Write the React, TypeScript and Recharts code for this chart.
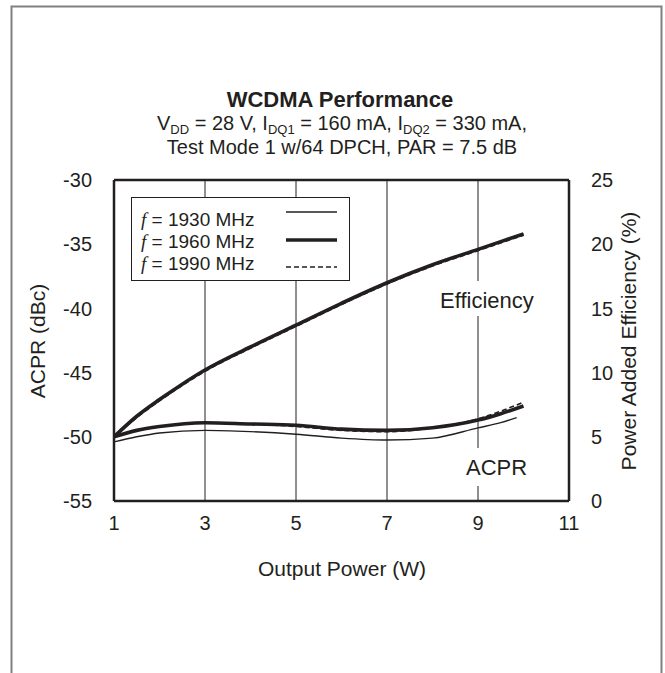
import React from "react";
import {
  ComposedChart,
  Line,
  XAxis,
  YAxis,
  CartesianGrid,
  ReferenceLine,
} from "recharts";

// Output power (W) sample points
const powerEff = [1, 1.5, 2, 2.5, 3, 4, 5, 6, 7, 8, 9, 10];
const powerAcpr = [1, 1.5, 2, 3, 4, 5, 6, 7, 8, 9, 9.5, 10];
const powerAcpr1930 = [1, 1.5, 2, 3, 4, 5, 6, 7, 8, 9, 9.5, 9.85];

// Power added efficiency (%)
const eff1930 = [5.0, 6.6, 7.9, 9.1, 10.2, 12.0, 13.7, 15.4, 17.0, 18.4, 19.6, 20.8];
const eff1960 = [5.0, 6.6, 7.9, 9.1, 10.2, 12.0, 13.7, 15.4, 17.0, 18.4, 19.6, 20.8];
const eff1990 = [5.0, 6.5, 7.8, 9.0, 10.1, 11.9, 13.6, 15.3, 16.9, 18.3, 19.5, 20.7];

// ACPR (dBc)
const acpr1930 = [-50.4, -50.0, -49.7, -49.5, -49.6, -49.8, -50.1, -50.25, -50.1, -49.3, -48.9, -48.5];
const acpr1960 = [-50.0, -49.5, -49.2, -48.9, -49.0, -49.1, -49.4, -49.5, -49.3, -48.7, -48.2, -47.6];
const acpr1990 = [-50.0, -49.5, -49.2, -48.9, -49.0, -49.2, -49.5, -49.6, -49.3, -48.6, -48.0, -47.3];

const xTicks = [1, 3, 5, 7, 9, 11];
const acprTicks = [-55, -50, -45, -40, -35, -30];
const effTicks = [0, 5, 10, 15, 20, 25];

const INK = "#231f20";
const FONT = "'Liberation Sans', Arial, sans-serif";

const toRows = (xs: number[], ys: number[]) => xs.map((x, i) => ({ x, y: ys[i] }));

const series = [
  { name: "1930 MHz", eff: eff1930, acpr: acpr1930, acprX: powerAcpr1930, width: 1.4, dash: undefined, legendY: 212 },
  { name: "1960 MHz", eff: eff1960, acpr: acpr1960, acprX: powerAcpr, width: 3.6, dash: undefined, legendY: 240 },
  { name: "1990 MHz", eff: eff1990, acpr: acpr1990, acprX: powerAcpr, width: 1.6, dash: "5 3", legendY: 267 },
];

const tickStyle = { fontSize: 20, fill: INK, fontFamily: FONT };

export default function App() {
  return (
    <div style={{ position: "absolute", left: 0, top: 0, width: 665, height: 673, background: "#fff" }}>
      <ComposedChart
        width={665}
        height={673}
        margin={{ top: 180, left: 54, right: 36, bottom: 142 }}
      >
        <CartesianGrid stroke={INK} strokeWidth={1} />
        <XAxis
          type="number"
          dataKey="x"
          domain={[1, 11]}
          ticks={xTicks}
          allowDataOverflow
          tickLine={false}
          axisLine={{ stroke: INK, strokeWidth: 2.5 }}
          tick={tickStyle}
          tickMargin={9}
          height={30}
        />
        <YAxis
          yAxisId="acpr"
          domain={[-55, -30]}
          ticks={acprTicks}
          tickLine={false}
          axisLine={{ stroke: INK, strokeWidth: 2.5 }}
          tick={tickStyle}
          tickMargin={16}
          width={60}
        />
        <YAxis
          yAxisId="eff"
          orientation="right"
          domain={[0, 25]}
          ticks={effTicks}
          tickLine={false}
          axisLine={{ stroke: INK, strokeWidth: 2.5 }}
          tick={tickStyle}
          tickMargin={16}
          width={60}
        />
        <ReferenceLine yAxisId="acpr" y={-30} stroke={INK} strokeWidth={2.5} />
        {series.map((s) => (
          <Line
            key={"eff" + s.name}
            yAxisId="eff"
            data={toRows(powerEff, s.eff)}
            dataKey="y"
            type="monotone"
            stroke={INK}
            strokeWidth={s.width}
            strokeDasharray={s.dash}
            dot={false}
            isAnimationActive={false}
          />
        ))}
        {series.map((s) => (
          <Line
            key={"acpr" + s.name}
            yAxisId="acpr"
            data={toRows(s.acprX, s.acpr)}
            dataKey="y"
            type="monotone"
            stroke={INK}
            strokeWidth={s.width}
            strokeDasharray={s.dash}
            dot={false}
            isAnimationActive={false}
          />
        ))}
      </ComposedChart>

      <svg
        width={665}
        height={673}
        style={{ position: "absolute", left: 0, top: 0, pointerEvents: "none", fontFamily: FONT }}
      >
        {/* outer frame, open at the bottom */}
        <polyline points="11.5,673 11.5,6.5 661.5,6.5 661.5,673" fill="none" stroke="#808080" strokeWidth={2} />

        <text x={340} y={107} textAnchor="middle" fontSize={22} fontWeight="bold" fill={INK}>
          WCDMA Performance
        </text>
        <text x={342} y={130} textAnchor="middle" fontSize={20} fill={INK}>
          V<tspan fontSize={13} baselineShift={-4}>DD</tspan>
          <tspan> = 28 V, I</tspan>
          <tspan fontSize={13} baselineShift={-4}>DQ1</tspan>
          <tspan> = 160 mA, I</tspan>
          <tspan fontSize={13} baselineShift={-4}>DQ2</tspan>
          <tspan> = 330 mA,</tspan>
        </text>
        <text x={342} y={154} textAnchor="middle" fontSize={20} fill={INK}>
          Test Mode 1 w/64 DPCH, PAR = 7.5 dB
        </text>

        {/* curve labels with white backing over the grid */}
        <rect x={434} y={281} width={104} height={35} fill="#fff" />
        <text x={440} y={308} fontSize={22} fill={INK}>Efficiency</text>
        <rect x={463} y={448} width={67} height={38} fill="#fff" />
        <text x={466} y={475} fontSize={22} fill={INK}>ACPR</text>

        {/* legend */}
        <rect x={131.5} y={197.5} width={218} height={83} fill="#fff" stroke={INK} strokeWidth={1} />
        {series.map((s, i) => (
          <g key={s.name}>
            <text x={141} y={226 + i * 22} fontSize={19} fill={INK}>
              <tspan fontStyle="italic" fontFamily="'Liberation Serif', serif">f</tspan> = {s.name}
            </text>
            <line
              x1={286}
              x2={337}
              y1={s.legendY}
              y2={s.legendY}
              stroke={INK}
              strokeWidth={s.width}
              strokeDasharray={s.dash}
            />
          </g>
        ))}

        {/* axis titles */}
        <text x={342} y={576} textAnchor="middle" fontSize={21} fill={INK}>
          Output Power (W)
        </text>
        <text x={45} y={341} textAnchor="middle" fontSize={21} fill={INK} transform="rotate(-90 45 341)">
          ACPR (dBc)
        </text>
        <text x={636} y={341} textAnchor="middle" fontSize={21} fill={INK} transform="rotate(-90 636 341)">
          Power Added Efficiency (%)
        </text>
      </svg>
    </div>
  );
}
